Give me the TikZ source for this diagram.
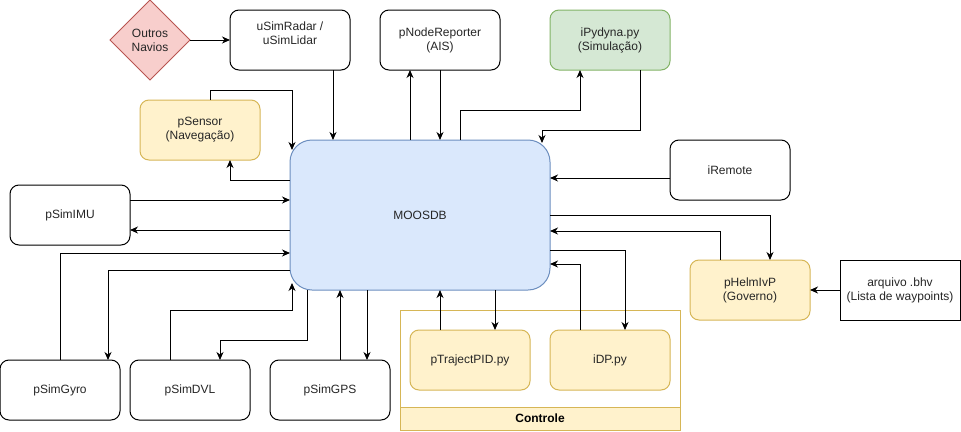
\documentclass[tikz,border=0pt]{standalone}
\usepackage{fontspec}
\setmainfont{Liberation Sans}
\usetikzlibrary{shapes.geometric, arrows.meta}
\definecolor{calmblue}{RGB}{218,232,252}
\definecolor{calmblueline}{RGB}{108,142,191}
\definecolor{sunnyyellow}{RGB}{255,242,204}
\definecolor{sunnyyellowline}{RGB}{214,182,86}
\definecolor{mintgreen}{RGB}{213,232,212}
\definecolor{mintgreenline}{RGB}{130,179,102}
\definecolor{blushpink}{RGB}{248,206,204}
\definecolor{blushpinkline}{RGB}{184,84,80}

\tikzset{
  module/.style={rectangle, draw=black, fill=white, line width=1pt, rounded corners=9pt,
    minimum width=120pt, minimum height=60pt, inner sep=2pt, outer sep=0pt, align=center,
    text=black!85, font=\fontsize{12}{14}\selectfont},
  yellowmodule/.style={module, draw=sunnyyellowline, fill=sunnyyellow},
  greenmodule/.style={module, draw=mintgreenline, fill=mintgreen},
  link/.style={line width=1pt, -{Stealth[length=8pt, width=7pt, inset=2.5pt]}}
}

\begin{document}
\begin{tikzpicture}[x=1pt, y=-1pt]
\useasboundingbox (0,0) rectangle (961,431);

% Controle group
\node[rectangle, draw=sunnyyellowline, fill=white, line width=1pt, minimum width=280pt, minimum height=120pt, outer sep=0pt] (controle) at (540,370) {};
\node[rectangle, draw=sunnyyellowline, fill=sunnyyellow, line width=1pt, minimum width=280pt, minimum height=23pt, outer sep=0pt, font=\fontsize{12}{14}\selectfont\bfseries] (controlebar) at (540,418.5) {Controle};

% Central database
\node[module, draw=calmblueline, fill=calmblue, rounded corners=22pt, minimum width=260pt, minimum height=150pt] (moosdb) at (420,215) {MOOSDB};

% Top row
\node[diamond, draw=blushpinkline, fill=blushpink, line width=1pt, minimum width=80pt, minimum height=80pt, inner sep=0pt, outer sep=0pt, align=center, text=black!85, font=\fontsize{12}{14}\selectfont] (navios) at (150,40) {Outros\\Navios};
\node[module, text depth=13pt] (radar) at (290,40) {uSimRadar /\\uSimLidar};
\node[module] (reporter) at (440,40) {pNodeReporter\\(AIS)};
\node[greenmodule] (pydyna) at (610,40) {iPydyna.py\\(Simulação)};
\node[yellowmodule] (sensor) at (200,130) {pSensor\\(Navegação)};
\node[module] (iremote) at (730,170) {iRemote};

% Simulated sensors
\node[module] (imu) at (70,215) {pSimIMU};
\node[module] (gyro) at (60,390) {pSimGyro};
\node[module] (dvl) at (190,390) {pSimDVL};
\node[module] (gps) at (330,390) {pSimGPS};

% Control and guidance
\node[yellowmodule] (traject) at (470,360) {pTrajectPID.py};
\node[yellowmodule] (idp) at (610,360) {iDP.py};
\node[yellowmodule] (helm) at (750,290) {pHelmIvP\\(Governo)};
\node[module, rounded corners=0pt] (bhv) at (900,290) {arquivo .bhv\\(Lista de waypoints)};

% Top connectors
\draw[link] (navios.east) -- (radar.west);
\draw[link] ([xshift=43pt]radar.south) -- ([xshift=43pt]radar.south |- moosdb.north);
\draw[link] ([xshift=10pt]sensor.north) -- ++(0,-10) -| ([xshift=2pt, yshift=-10pt]moosdb.north west);
\draw[link] ([yshift=35pt]moosdb.west) -| ([xshift=30pt]sensor.south);
\draw[link] ([xshift=-30pt]reporter.south |- moosdb.north) -- ([xshift=-30pt]reporter.south);
\draw[link] (reporter.south) -- (reporter.south |- moosdb.north);
\draw[link] ([xshift=40pt]moosdb.north) -- ++(0,-30) -| ([xshift=-30pt]pydyna.south);
\draw[link] ([xshift=30pt]pydyna.south) -- ++(0,60) -| ([xshift=-8pt, yshift=-3pt]moosdb.north east);
\draw[link] ([yshift=-8pt]iremote.west) -- ([yshift=-8pt]iremote.west -| moosdb.east);

% Sensor connectors
\draw[link] ([yshift=15pt]imu.east) -- ([yshift=15pt]imu.east -| moosdb.west);
\draw[link] ([yshift=-15pt]moosdb.west) -- ([yshift=-15pt]moosdb.west -| imu.east);
\draw[link] (gyro.north) |- ([yshift=-38pt]moosdb.west);
\draw[link] ([yshift=-55pt]moosdb.west) -| ([xshift=48pt]gyro.north);
\draw[link] ([xshift=-20pt]dvl.north) -- ++(0,-50) -| ([xshift=2pt, yshift=7pt]moosdb.south west);
\draw[link] ([xshift=17pt]moosdb.south west) -- ++(0,50) -| ([xshift=30pt]dvl.north);
\draw[link] ([xshift=10pt]gps.north) -- ([xshift=10pt]gps.north |- moosdb.south);
\draw[link] ([xshift=37pt]gps.north |- moosdb.south) -- ([xshift=37pt]gps.north);

% Control connectors
\draw[link] ([xshift=-30pt]traject.north) -- ([xshift=-30pt]traject.north |- moosdb.south);
\draw[link] ([xshift=25pt]traject.north |- moosdb.south) -- ([xshift=25pt]traject.north);
\draw[link] ([xshift=-30pt]idp.north) |- ([yshift=-49pt]moosdb.east);
\draw[link] ([yshift=-35pt]moosdb.east) -| ([xshift=15pt]idp.north);
\draw[link] (moosdb.east) -| ([xshift=20pt]helm.north);
\draw[link] ([xshift=-30pt]helm.north) |- ([yshift=-16pt]moosdb.east);
\draw[link] (bhv.west) -- (helm.east);
\end{tikzpicture}
\end{document}
